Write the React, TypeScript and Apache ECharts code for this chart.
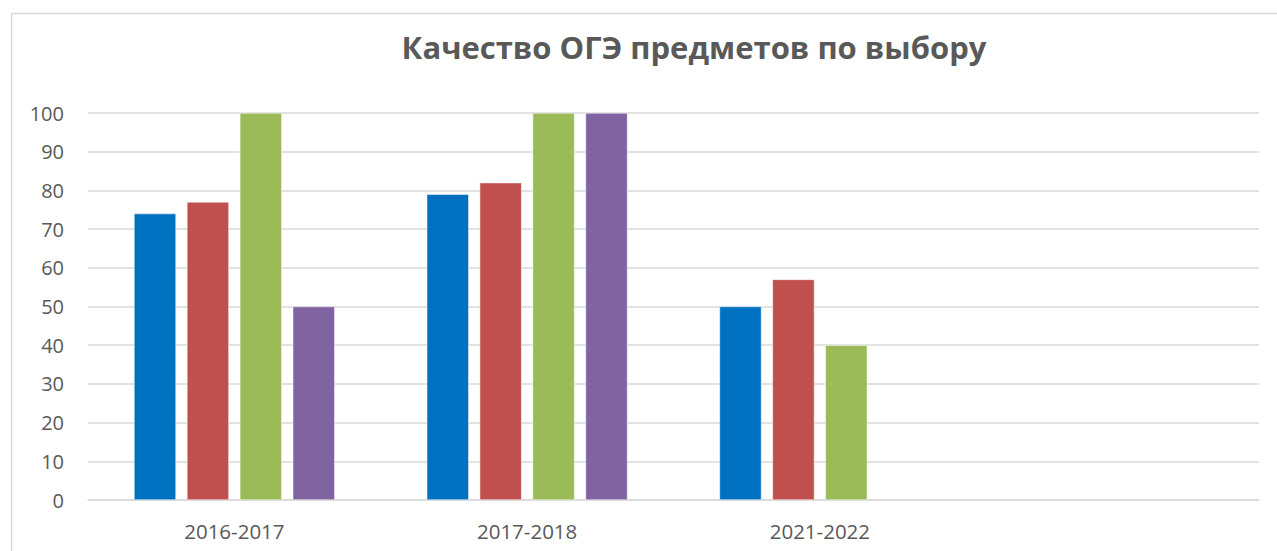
import React, { useEffect, useRef } from "react";
import * as echarts from "echarts";

const title = "Качество ОГЭ предметов по выбору";
const categories = ["2016-2017", "2017-2018", "2021-2022", ""];
const series1 = [74, 79, 50, null];
const series2 = [77, 82, 57, null];
const series3 = [100, 100, 40, null];
const series4 = [50, 100, null, null];
const colors = ["#0070C0", "#C0504D", "#9BBB59", "#8064A2"];

export default function App() {
  const ref = useRef<HTMLDivElement>(null);
  useEffect(() => {
    if (!ref.current) return;
    const chart = echarts.init(ref.current, null, { renderer: "svg" });
    const mk = (name: string, data: (number | null)[], i: number) => ({
      name,
      type: "bar",
      data,
      barWidth: 42,
      barGap: "26%",
      itemStyle: { color: colors[i], borderColor: "#ffffff", borderWidth: 0.5 },
    });
    chart.setOption({
      animation: false,
      backgroundColor: "#ffffff",
      title: {
        text: title,
        left: 689,
        top: 26,
        textAlign: "center",
        textStyle: {
          fontFamily: "Open Sans",
          fontWeight: "bold",
          fontSize: 31,
          color: "#595959",
        },
      },
      graphic: [
        {
          type: "rect",
          shape: { x: 11.5, y: 13.5, width: 1400, height: 700 },
          style: { fill: "none", stroke: "#d9d9d9", lineWidth: 1.5 },
          silent: true,
        },
      ],
      grid: { left: 88, right: 18, top: 113, bottom: 51, containLabel: false },
      xAxis: {
        type: "category",
        data: categories,
        axisLine: { show: true, lineStyle: { color: "#d9d9d9", width: 1.5 } },
        axisTick: { show: false },
        axisLabel: {
          fontFamily: "Open Sans",
          fontSize: 20.5,
          color: "#595959",
          margin: 20,
        },
      },
      yAxis: {
        type: "value",
        min: 0,
        max: 100,
        interval: 10,
        axisLine: { show: false },
        axisTick: { show: false },
        axisLabel: {
          fontFamily: "Open Sans",
          fontSize: 20,
          color: "#595959",
          margin: 24,
        },
        splitLine: { lineStyle: { color: "#d9d9d9", width: 1.5 } },
      },
      series: [
        mk("s1", series1, 0),
        mk("s2", series2, 1),
        mk("s3", series3, 2),
        mk("s4", series4, 3),
      ],
    });
    return () => chart.dispose();
  }, []);
  return (
    <div
      ref={ref}
      style={{ position: "fixed", left: 0, top: 0, width: 1277, height: 551 }}
    />
  );
}
